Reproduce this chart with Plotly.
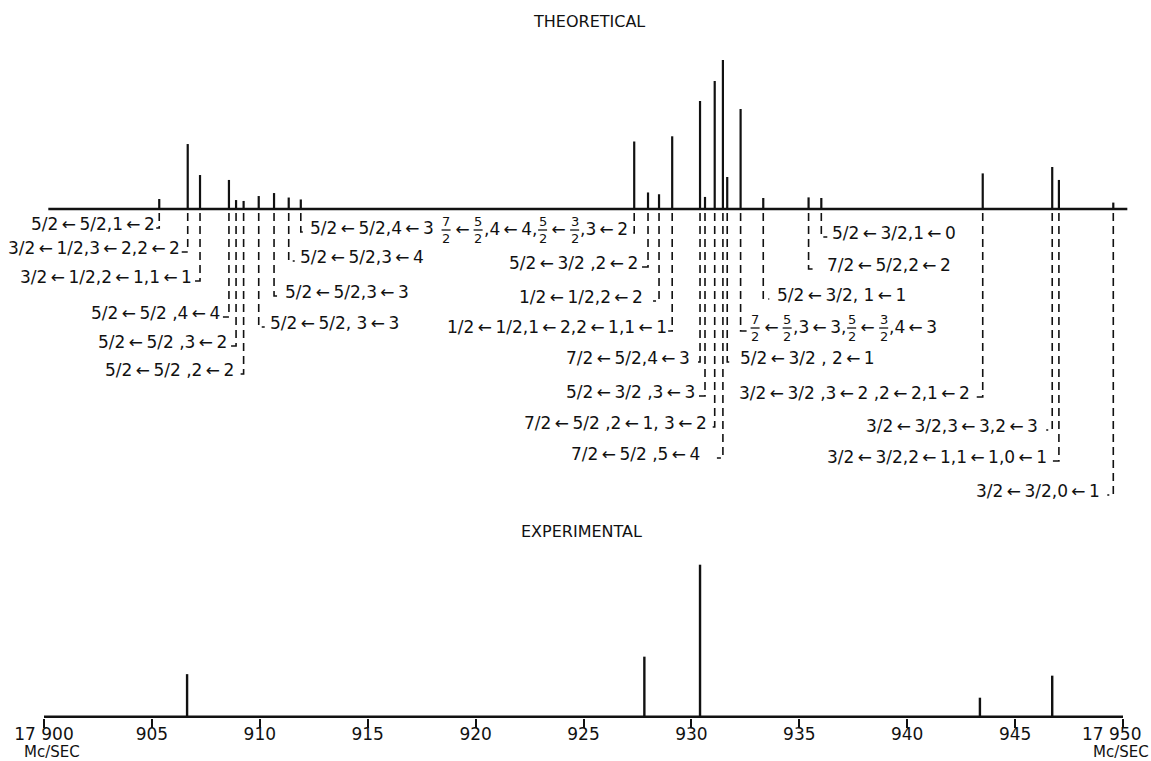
import re
import plotly.graph_objects as go

# ---------------- data ----------------
theo_freq = [17905.34, 17906.66, 17907.23, 17908.57, 17908.90, 17909.25, 17909.95, 17910.66, 17911.34, 17911.90,
             17927.35, 17927.99, 17928.50, 17929.11, 17930.40, 17930.63, 17931.08, 17931.46, 17931.66, 17932.28,
             17933.33, 17935.43, 17936.02, 17943.50, 17946.72, 17947.03, 17949.55]
theo_int = [6.7, 43.6, 22.8, 19.5, 6.0, 5.4, 8.7, 10.7, 7.7, 6.4,
            45.3, 11.1, 9.9, 48.8, 72.5, 8.1, 85.9, 100.0, 21.5, 67.1,
            7.4, 7.8, 7.4, 23.9, 28.2, 19.5, 4.3]
# {a/b} = stacked fraction
theo_labels = [
    "5/2←5/2,1←2", "3/2←1/2,3←2,2←2", "3/2←1/2,2←1,1←1", "5/2←5/2 ,4←4", "5/2←5/2 ,3←2", "5/2←5/2 ,2←2",
    "5/2←5/2, 3←3", "5/2←5/2,3←3", "5/2←5/2,3←4", "5/2←5/2,4←3",
    "{7/2}←{5/2},4←4,{5/2}←{3/2},3←2", "5/2←3/2 ,2←2", "1/2←1/2,2←2", "1/2←1/2,1←2,2←1,1←1",
    "7/2←5/2,4←3", "5/2←3/2 ,3←3", "7/2←5/2 ,2←1, 3←2", "7/2←5/2 ,5←4",
    "5/2←3/2 , 2←1", "{7/2}←{5/2},3←3,{5/2}←{3/2},4←3", "5/2←3/2, 1←1", "7/2←5/2,2←2", "5/2←3/2,1←0",
    "3/2←3/2 ,3←2 ,2←2,1←2", "3/2←3/2,3←3,2←3", "3/2←3/2,2←1,1←1,0←1", "3/2←3/2,0←1",
]
exp_freq = [17906.63, 17927.82, 17930.40, 17943.37, 17946.72]
exp_int = [28.0, 39.5, 100.0, 12.5, 27.0]
tick_vals = [17900, 17905, 17910, 17915, 17920, 17925, 17930, 17935, 17940, 17945, 17950]
tick_text = ["17 900", "905", "910", "915", "920", "925", "930", "935", "940", "945", "17 950"]
theo_span = [17900.2, 17950.2]

# ---------------- layout helpers (positions / styles) ----------------
label_side = ["L"] * 6 + ["R"] * 4 + ["L"] * 8 + ["R"] * 5 + ["L"] * 4
label_row = [224, 248, 277, 313, 342, 370, 323, 292, 257, 228,
             229, 263, 297, 327, 358, 392, 423, 454,
             358, 327, 295, 265, 233,
             393, 426, 457, 491]
label_pad = [4, 8, 8, 9, 9, 9, 11, 11, 11, 9,
             6, 10, 16, 5, 10, 10, 8, 23,
             13, 9, 14, 18, 11,
             13, 14, 12, 13]

FIG_W, FIG_H = 1151, 761
M_B = 43
PLOT_H = FIG_H - M_B
PX_PER_MC = 21.58
X0_PX = 44
x_range = [17900 - X0_PX / PX_PER_MC, 17900 + (FIG_W - X0_PX) / PX_PER_MC]
BASE_PX = 209
TH_SCALE = 1.49
EX_SCALE = 1.52
LW = 2.6
y_range = [-(PLOT_H - BASE_PX) / TH_SCALE, BASE_PX / TH_SCALE]
y2_range = [-(LW / 2) / EX_SCALE, (PLOT_H - LW / 2) / EX_SCALE]

FONT = "DejaVu Sans"
FS = 17
FRS = 13
FR_W = 11
INK = "#111111"


def ty(px):
    return (BASE_PX - px) / TH_SCALE


def dxp(px):
    return px / PX_PER_MC


def fmt(s):
    return s.replace("←", "\u2009←\u2009")


CW = {c: 0.636 for c in "0123456789"}
CW.update({"/": 0.337, ",": 0.318, " ": 0.318, "\u2009": 0.2, "←": 0.838})


def text_w(s, size):
    return sum(CW.get(c, 0.6) for c in s) * size


def segments(label):
    parts = re.split(r"(\{\d/\d\})", label)
    out = []
    for p in parts:
        if not p:
            continue
        m = re.fullmatch(r"\{(\d)/(\d)\}", p)
        if m:
            out.append(("frac", m.group(1), m.group(2)))
        else:
            out.append(("txt", fmt(p)))
    return out


fig = go.Figure()

# theoretical stems
sx, sy = [], []
for f, h in zip(theo_freq, theo_int):
    sx += [f, f, None]
    sy += [0, h, None]
fig.add_trace(go.Scatter(x=sx, y=sy, mode="lines", line=dict(color=INK, width=2.2),
                         hoverinfo="skip", showlegend=False))
# theoretical baseline
fig.add_trace(go.Scatter(x=theo_span, y=[0, 0], mode="lines", line=dict(color=INK, width=LW),
                         hoverinfo="skip", showlegend=False))

# leader lines
lx, ly = [], []
annotations = []
shapes = []
for f, lab, side, row, pad in zip(theo_freq, theo_labels, label_side, label_row, label_pad):
    hook = min(6, pad - 1)
    yh = ty(row + 4)
    sgn = -1 if side == "L" else 1
    lx += [f, f, f + sgn * dxp(hook), None]
    ly += [ty(BASE_PX + 4), yh, yh, None]
    segs = segments(lab)
    widths = [FR_W if s[0] == "frac" else text_w(s[1], FS) for s in segs]
    total = sum(widths)
    cur = -pad - total if side == "L" else pad
    for s, w in zip(segs, widths):
        if s[0] == "txt":
            annotations.append(dict(x=f, y=ty(row), xref="x", yref="y", text=s[1], showarrow=False,
                                    xanchor="left", yanchor="middle", xshift=cur, yshift=0,
                                    borderpad=0, borderwidth=0,
                                    font=dict(family=FONT, size=FS, color=INK)))
        else:
            annotations.append(dict(x=f, y=ty(row), xref="x", yref="y", text=s[1] + "<br>" + s[2],
                                    showarrow=False, xanchor="center", yanchor="middle",
                                    xshift=cur + w / 2, yshift=-1, borderpad=0, borderwidth=0,
                                    font=dict(family=FONT, size=FRS, color=INK)))
            shapes.append(dict(type="line", xref="x", yref="y", xsizemode="pixel", ysizemode="pixel",
                               xanchor=f, yanchor=ty(row), x0=cur + 1, x1=cur + w - 1, y0=-1, y1=-1,
                               line=dict(color=INK, width=1.3)))
        cur += w

fig.add_trace(go.Scatter(x=lx, y=ly, mode="lines", line=dict(color=INK, width=1.6, dash="8px,5px"),
                         hoverinfo="skip", showlegend=False))

# experimental stems and baseline
ex, ey = [], []
for f, h in zip(exp_freq, exp_int):
    ex += [f, f, None]
    ey += [0, h, None]
fig.add_trace(go.Scatter(x=ex, y=ey, yaxis="y2", mode="lines", line=dict(color=INK, width=2.4),
                         hoverinfo="skip", showlegend=False))
fig.add_trace(go.Scatter(x=[tick_vals[0], tick_vals[-1]], y=[0, 0], yaxis="y2", mode="lines",
                         line=dict(color=INK, width=LW), hoverinfo="skip", showlegend=False))

# titles
annotations.append(dict(x=589 / FIG_W, y=1 - 21 / PLOT_H, xref="paper", yref="paper",
                        text="THEORETICAL", showarrow=False, xanchor="center",
                        yanchor="middle", font=dict(family=FONT, size=16, color=INK)))
annotations.append(dict(x=581 / FIG_W, y=1 - 531 / PLOT_H, xref="paper", yref="paper",
                        text="EXPERIMENTAL", showarrow=False, xanchor="center",
                        yanchor="middle", font=dict(family=FONT, size=16, color=INK)))

# end tick labels
annotations.append(dict(x=tick_vals[-1], y=0, xref="x", yref="y2", text=tick_text[-1], showarrow=False,
                        xanchor="right", yanchor="middle", xshift=18, yshift=-(735 - PLOT_H),
                        borderpad=0, borderwidth=0, font=dict(family=FONT, size=17, color=INK)))
annotations.append(dict(x=tick_vals[0], y=0, xref="x", yref="y2", text="Mc/SEC", showarrow=False,
                        xanchor="center", yanchor="middle", xshift=8, yshift=-(753 - PLOT_H),
                        borderpad=0, borderwidth=0, font=dict(family=FONT, size=15, color=INK)))
annotations.append(dict(x=tick_vals[-1], y=0, xref="x", yref="y2", text="Mc/SEC", showarrow=False,
                        xanchor="right", yanchor="middle", xshift=26, yshift=-(753 - PLOT_H),
                        borderpad=0, borderwidth=0, font=dict(family=FONT, size=15, color=INK)))

axis_ticktext = tick_text[:-1] + [""]

fig.update_layout(
    width=FIG_W, height=FIG_H,
    margin=dict(l=0, r=0, t=0, b=M_B, autoexpand=False),
    paper_bgcolor="white", plot_bgcolor="white",
    showlegend=False,
    xaxis=dict(range=x_range, showgrid=False, zeroline=False, showline=False, automargin=False,
               ticks="outside", ticklen=9, tickwidth=2, tickcolor=INK, ticklabelstandoff=-8,
               tickvals=tick_vals, ticktext=axis_ticktext, anchor="y2",
               tickfont=dict(family=FONT, size=17, color=INK)),
    yaxis=dict(range=y_range, visible=False, fixedrange=True, automargin=False),
    yaxis2=dict(range=y2_range, visible=False, overlaying="y", fixedrange=True, automargin=False),
    annotations=annotations,
    shapes=shapes,
)

fig.write_html(
    "out.html",
    config={"displayModeBar": False},
    post_script="document.body.style.margin='0';document.body.style.padding='0';"
                "document.body.style.overflow='hidden';",
)
